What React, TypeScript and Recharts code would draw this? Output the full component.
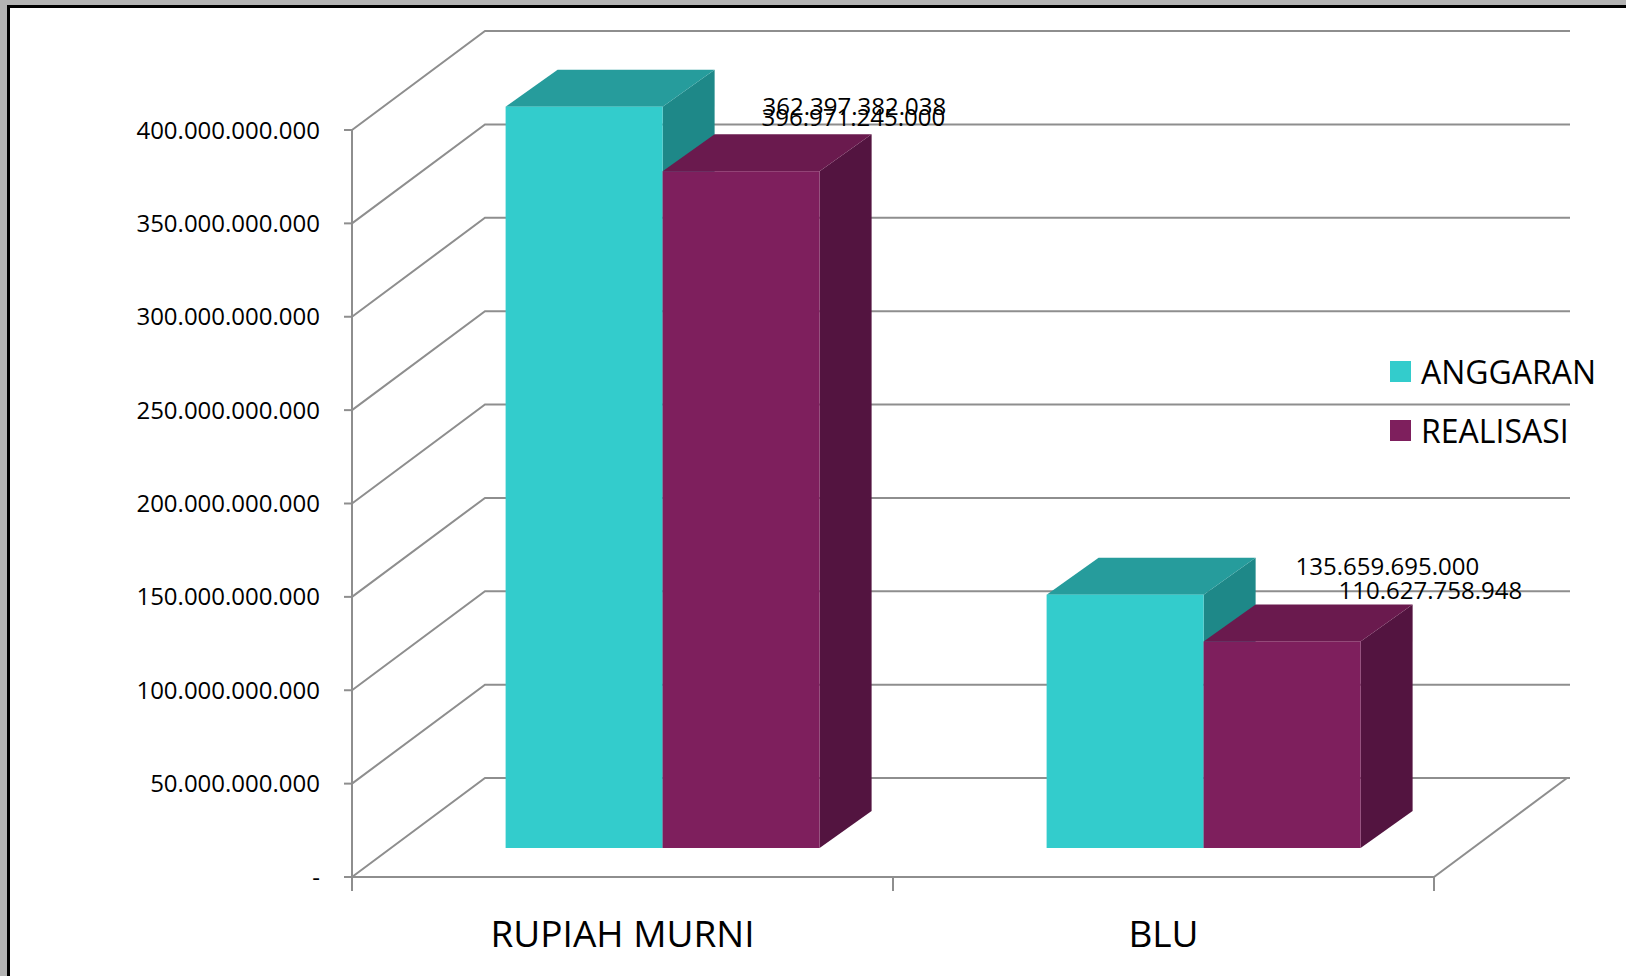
import React from 'react';
import { BarChart, Bar, XAxis, YAxis, CartesianGrid, Legend, LabelList } from 'recharts';

// data (Rupiah)
const categories = ['RUPIAH MURNI', 'BLU'];
const anggaran = [396971245000, 135659695000];
const realisasi = [362397382038, 110627758948];
const yTicks = [0, 50e9, 100e9, 150e9, 200e9, 250e9, 300e9, 350e9, 400e9];
const seriesNames = ['ANGGARAN', 'REALISASI'];

const data = categories.map((name, i) => ({ name, anggaran: anggaran[i], realisasi: realisasi[i] }));

// the data labels were dragged by hand in the original, so nudge them per category
const anggaranLabelNudge = [
  [296, -19],
  [289, -58],
];
const realisasiLabelNudge = [
  [140, -95],
  [175, -81],
];

const W = 1626;
const H = 976;
const PLOT_LEFT = 352;
const PLOT_RIGHT = 1434;
const PLOT_BOTTOM = 877;
const FONT = "'Open Sans', sans-serif";
const GRID = '#8e8e8e';

// fake 3D: back wall depth, bar offset into the box, bar depth
const WALL_DX = 133;
const WALL_DY = -99;
const BAR_SHIFT_X = 40;
const BAR_SHIFT_Y = -29;
const BAR_DX = 52;
const BAR_DY = -37;

const cyan = { front: '#33cccc', top: '#269c9c', side: '#1e8888' };
const plum = { front: '#7e1f5d', top: '#6a1a4e', side: '#531440' };

const fmt = (v: number) =>
  v === 0 ? '-' : String(Math.round(v)).replace(/\B(?=(\d{3})+(?!\d))/g, '.');

function makeBar3D(c: { front: string; top: string; side: string }) {
  return (props: any) => {
    const { x, y, width, height } = props;
    if (width == null || height == null) return <g />;
    const fx = x + BAR_SHIFT_X;
    const fy = y + BAR_SHIFT_Y;
    const fr = fx + width;
    const fb = fy + height;
    return (
      <g>
        <polygon
          points={`${fr},${fy} ${fr + BAR_DX},${fy + BAR_DY} ${fr + BAR_DX},${fb + BAR_DY} ${fr},${fb}`}
          fill={c.side}
        />
        <polygon
          points={`${fx},${fy} ${fx + BAR_DX},${fy + BAR_DY} ${fr + BAR_DX},${fy + BAR_DY} ${fr},${fy}`}
          fill={c.top}
        />
        <rect x={fx} y={fy} width={width} height={height} fill={c.front} />
      </g>
    );
  };
}

function gridLine(props: any) {
  const { x1, y1, x2, index } = props;
  const by = y1 + WALL_DY;
  const isFloor = Math.abs(y1 - PLOT_BOTTOM) < 1;
  return (
    <g key={`grid-${index}`}>
      <polyline
        points={`${x1},${y1} ${x1 + WALL_DX},${by} ${x2 + WALL_DX + 3},${by}`}
        fill="none"
        stroke={GRID}
        strokeWidth={2}
      />
      {isFloor && (
        <polyline
          points={`${x2},${y1} ${x2 + WALL_DX},${by}`}
          fill="none"
          stroke={GRID}
          strokeWidth={2}
        />
      )}
    </g>
  );
}

function CategoryTick(props: any) {
  const { x, payload, index } = props;
  const band = (PLOT_RIGHT - PLOT_LEFT) / categories.length;
  return (
    <g>
      <line x1={x - band / 2} y1={PLOT_BOTTOM} x2={x - band / 2} y2={PLOT_BOTTOM + 14} stroke={GRID} strokeWidth={2} />
      {index === categories.length - 1 && (
        <line x1={x + band / 2} y1={PLOT_BOTTOM} x2={x + band / 2} y2={PLOT_BOTTOM + 14} stroke={GRID} strokeWidth={2} />
      )}
      <text x={x} y={PLOT_BOTTOM + 70} textAnchor="middle" fontSize={37} fontFamily={FONT} fill="#000">
        {payload.value}
      </text>
    </g>
  );
}

function valueLabel(nudge: number[][]) {
  return (props: any) => {
    const { x, y, value, index } = props;
    const [dx, dy] = nudge[index] ?? [0, 0];
    return (
      <text x={x + dx} y={y + dy} dominantBaseline="central" fontSize={24} fontFamily={FONT} fill="#000">
        {fmt(Number(value))}
      </text>
    );
  };
}

function LegendBox() {
  const colors = [cyan.front, plum.front];
  return (
    <div style={{ fontFamily: FONT }}>
      {seriesNames.map((n, i) => (
        <div key={n} style={{ height: 59, display: 'flex', alignItems: 'center' }}>
          <span style={{ width: 21, height: 21, background: colors[i], marginRight: 10, display: 'inline-block' }} />
          <span style={{ fontSize: 32, color: '#000' }}>{n}</span>
        </div>
      ))}
    </div>
  );
}

export default function App() {
  return (
    <div style={{ position: 'fixed', left: 0, top: 0, width: W, height: H, background: '#b3b3b3' }}>
      <div
        style={{
          position: 'absolute',
          left: 7,
          top: 5,
          right: 0,
          bottom: 0,
          borderLeft: '3px solid #000',
          borderTop: '3px solid #000',
          background: '#fff',
        }}
      />
      <div style={{ position: 'absolute', left: 0, top: 0 }}>
        <BarChart
          width={W}
          height={H}
          data={data}
          margin={{ top: 130, right: 192, bottom: 19, left: 152 }}
          barCategoryGap="21%"
          barGap={0}
        >
          <CartesianGrid vertical={false} horizontal={gridLine} />
          <XAxis dataKey="name" height={80} axisLine={{ stroke: GRID, strokeWidth: 2 }} tickLine={false} tick={<CategoryTick />} interval={0} />
          <YAxis
            width={200}
            domain={[0, 400e9]}
            ticks={yTicks}
            tickFormatter={fmt}
            axisLine={{ stroke: GRID, strokeWidth: 2 }}
            tickLine={{ stroke: GRID, strokeWidth: 2 }}
            tickSize={8}
            tickMargin={24}
            tick={{ fontSize: 24, fill: '#000', fontFamily: FONT }}
          />
          <Legend
            layout="vertical"
            align="center"
            verticalAlign="middle"
            content={<LegendBox />}
            wrapperStyle={{ left: 1390, top: 342, width: 236, height: 118 }}
          />
          <Bar dataKey="anggaran" name={seriesNames[0]} fill={cyan.front} shape={makeBar3D(cyan)} isAnimationActive={false}>
            <LabelList dataKey="anggaran" content={valueLabel(anggaranLabelNudge)} />
          </Bar>
          <Bar dataKey="realisasi" name={seriesNames[1]} fill={plum.front} shape={makeBar3D(plum)} isAnimationActive={false}>
            <LabelList dataKey="realisasi" content={valueLabel(realisasiLabelNudge)} />
          </Bar>
        </BarChart>
      </div>
    </div>
  );
}
